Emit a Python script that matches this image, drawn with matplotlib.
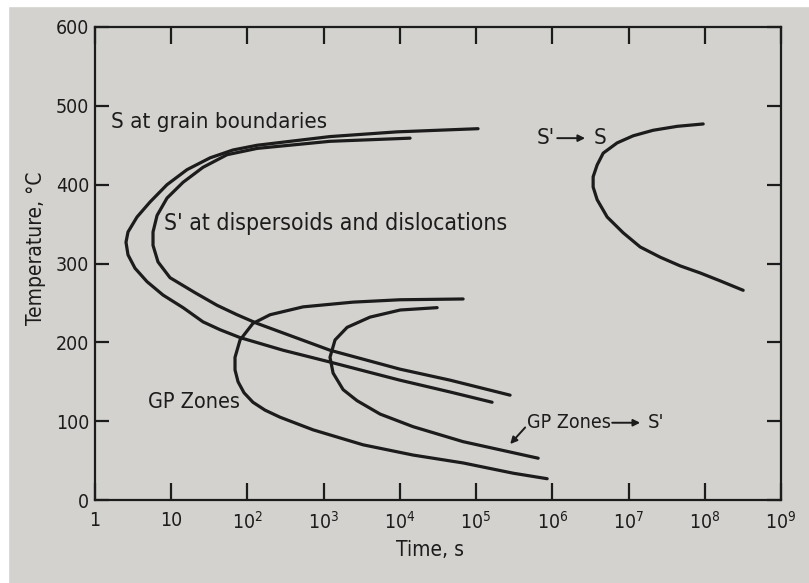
import matplotlib
matplotlib.use("Agg")
import matplotlib.pyplot as plt
from matplotlib.patches import Rectangle

# curves: time in s, temperature in deg C
s_gb_time = [1.06e5, 9.19e3, 1.21e3, 134, 64.7, 32.3, 16.1, 8.81, 5.27, 3.56,
             2.71, 2.55, 2.71, 3.35, 4.81, 7.8, 14.3, 26.1, 43.7, 80.0,
             293, 1.21e3, 1.0e4, 4.56e4, 1.62e5]
s_gb_temp = [471, 467, 461, 450, 444, 434, 419, 400, 378, 359,
             340, 327, 311, 294, 277, 260, 244, 226, 216, 206,
             190, 175, 152, 137, 124]

s_disp_time = [1.36e4, 1.21e3, 134, 54.0, 26.1, 14.3, 8.81, 6.52, 5.77, 5.77,
               6.71, 9.64, 20.5, 39.9, 73.1, 134, 1.21e3, 1.0e4, 4.56e4, 2.79e5]
s_disp_temp = [459, 455, 446, 438, 422, 403, 383, 361, 340, 323,
               302, 282, 263, 247, 235, 224, 190, 166, 152, 133]

gp_time = [6.75e4, 1.0e4, 2.43e3, 537, 198, 118, 80.0, 68.7, 68.7, 75.3,
           90.2, 118, 170, 268, 726, 3.29e3, 1.49e4, 6.75e4, 3.06e5, 8.55e5]
gp_temp = [255, 254, 251, 245, 235, 224, 203, 181, 165, 150,
           136, 124, 114, 105, 89, 70, 57, 47, 34, 27]

gp_s_time = [3.08e4, 1.01e4, 4.06e3, 2.03e3, 1.41e3, 1.21e3, 1.33e3, 1.8e3,
             2.74e3, 5.5e3, 1.49e4, 6.75e4, 3.06e5, 6.52e5]
gp_s_temp = [244, 241, 232, 219, 203, 181, 161, 140, 126, 109, 93, 74, 60, 53]

s_to_s_time = [9.53e7, 4.35e7, 2.1e7, 1.15e7, 7.08e6, 4.65e6, 3.87e6, 3.43e6,
               3.43e6, 3.87e6, 5.24e6, 8.49e6, 1.42e7, 2.6e7, 4.75e7, 8.71e7,
               1.59e8, 3.19e8]
s_to_s_temp = [477, 474, 469, 462, 453, 440, 425, 410,
               397, 381, 359, 339, 321, 308, 297, 288,
               278, 266]

x_ticks = [1, 10, 1e2, 1e3, 1e4, 1e5, 1e6, 1e7, 1e8, 1e9]
x_labels = ['1', '10', '$10^2$', '$10^3$', '$10^4$', '$10^5$', '$10^6$',
            '$10^7$', '$10^8$', '$10^9$']
y_ticks = [0, 100, 200, 300, 400, 500, 600]

plt.rcParams['font.family'] = ['DejaVu Sans']
plt.rcParams['font.stretch'] = 'condensed'
plt.rcParams['mathtext.fontset'] = 'custom'
plt.rcParams['mathtext.rm'] = 'DejaVu Sans:stretch=condensed'
plt.rcParams['mathtext.default'] = 'regular'

ink = '#1c1c1c'
paper = '#d3d2ce'

fig = plt.figure(figsize=(8.09, 5.83), dpi=100, facecolor=paper)
ax = fig.add_axes([95 / 809, 83 / 583, 686 / 809, 473 / 583])
ax.set_facecolor(paper)
# white edge of the scan
fig.patches.append(Rectangle((0, 1 - 6 / 583), 1, 6 / 583, transform=fig.transFigure,
                             color='white', zorder=0))
fig.patches.append(Rectangle((0, 0), 8 / 809, 1, transform=fig.transFigure,
                             color='white', zorder=0))

lw = 2.3
for t, T in [(s_gb_time, s_gb_temp), (s_disp_time, s_disp_temp), (gp_time, gp_temp),
             (gp_s_time, gp_s_temp), (s_to_s_time, s_to_s_temp)]:
    ax.plot(t, T, color=ink, lw=lw, solid_joinstyle='round', solid_capstyle='round')

ax.set_xscale('log')
ax.set_xlim(1, 1e9)
ax.set_ylim(0, 600)
ax.minorticks_off()
ax.set_xticks(x_ticks)
ax.set_xticklabels(x_labels)
ax.set_yticks(y_ticks)
ax.tick_params(axis='both', direction='in', colors=ink, labelsize=14, width=1.6)
ax.tick_params(axis='x', length=12, top=True, pad=8)
ax.tick_params(axis='y', length=10, right=True, pad=4)

for sp in ax.spines.values():
    sp.set_color(ink)
    sp.set_linewidth(1.6)
# bottom axis is broken just after 10
ax.spines['bottom'].set_visible(False)
xt = ax.get_xaxis_transform()
ax.plot([1, 10], [0, 0], transform=xt, color=ink, lw=1.6, clip_on=False)
ax.plot([10.6, 1e9], [0, 0], transform=xt, color=ink, lw=1.6, clip_on=False)

ax.set_xlabel('Time, s', fontsize=15, color=ink)
ax.set_ylabel('Temperature, °C', fontsize=15, color=ink)
ax.xaxis.set_label_coords(0.488, -0.085)
ax.yaxis.set_label_coords(-0.071, 0.533)

fs = 16
arrow = dict(arrowstyle='-|>', color=ink, lw=1.4, mutation_scale=10, shrinkA=0, shrinkB=0)
ax.text(1.6, 480, 'S at grain boundaries', fontsize=fs, color=ink, va='center')
ax.text(8.0, 351, "S' at dispersoids and dislocations", fontsize=16.5, color=ink, va='center')
ax.text(4.9, 124, 'GP Zones', fontsize=15.5, color=ink, va='center')
ax.text(4.7e5, 98, 'GP Zones', fontsize=14, color=ink, va='center')
ax.annotate('', xy=(1.42e7, 98), xytext=(6.1e6, 98), arrowprops=arrow)
ax.text(1.8e7, 98, "S'", fontsize=14.5, color=ink, va='center')
ax.annotate('', xy=(2.8e5, 71), xytext=(4.4e5, 92), arrowprops=arrow)
ax.text(6.3e5, 459, "S'", fontsize=fs, color=ink, va='center')
ax.annotate('', xy=(2.69e6, 459), xytext=(1.16e6, 459), arrowprops=arrow)
ax.text(3.5e6, 459, 'S', fontsize=fs, color=ink, va='center')

fig.savefig('out.png', dpi=100, facecolor=paper)
